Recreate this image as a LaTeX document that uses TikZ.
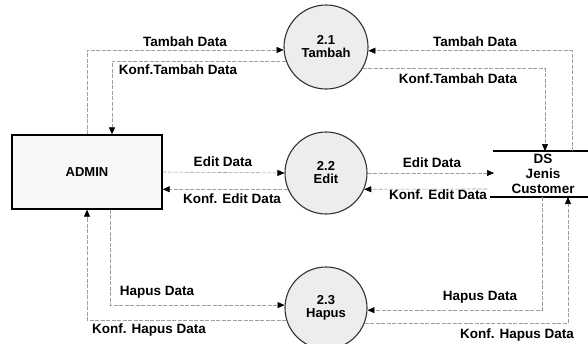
\documentclass[tikz,border=0pt]{standalone}
\usepackage{fontspec}
\setmainfont{Liberation Sans}
\usetikzlibrary{arrows.meta,calc}
\begin{document}
\begin{tikzpicture}[x=1pt,y=-1pt,
  lbl/.style={font=\fontsize{13.5}{15}\bfseries\selectfont, inner sep=0pt},
  proc/.style={circle, draw=black!80, line width=1.1pt, fill=gray!14, minimum size=82pt, inner sep=0pt, align=center, font=\fontsize{13}{15}\bfseries\selectfont},
  entity/.style={rectangle, draw=black, line width=1.4pt, fill=gray!6, minimum width=150pt, minimum height=74pt, font=\fontsize{13}{15}\bfseries\selectfont},
  flow/.style={draw=gray!75, line width=0.6pt, dash pattern=on 4pt off 1.5pt, -{Triangle[length=7pt,width=6pt,fill=black,color=black]}},
  storeline/.style={draw=black, line width=1.4pt}]
\useasboundingbox (0,0) rectangle (588,343);
\fill[white] (0,0) rectangle (588,343);

% entities and processes
\node[entity] (admin) at (87,172) {ADMIN};
\node[proc, minimum size=84pt] (c1) at (326,47) {2.1\\[-2pt]Tambah};
\node[proc] (c2) at (326,173) {2.2\\[-2pt]Edit};
\node[proc] (c3) at (326,308) {2.3\\[-2pt]Hapus};

% data store
\node[lbl, align=center] (ds) at (543,174) {DS\\[0pt]Jenis\\[0pt]Customer};
\coordinate (dsTl) at (493,151);
\coordinate (dsTr) at (588,151);
\coordinate (dsBl) at (490,197);
\coordinate (dsBr) at (588,197);
\draw[storeline] (dsTl) -- (dsTr);
\draw[storeline] (dsBl) -- (dsBr);

% store connection points
\coordinate (dsTa) at (572,151);
\coordinate (dsTb) at (545,151);
\coordinate (dsL) at (494,173);
\coordinate (dsL2) at (487,189);
\coordinate (dsBa) at (542,197);
\coordinate (dsBb) at (568,197);

% Tambah
\draw[flow] (admin.north) |- (c1.184);
\draw[flow] (c1.199) -| ([xshift=25pt]admin.north);
\draw[flow] (dsTa) |- (c1.-5);
\draw[flow] (c1.-30) -| (dsTb);

% Edit
\draw[flow] (admin.east) -- (c2.west);
\draw[flow] (c2.203) -- (c2.203 -| admin.east);
\draw[flow] (c2.east) -- (dsL);
\draw[flow] (dsL2) -- (c2.-23);

% Hapus
\draw[flow] ([xshift=23pt]admin.south) |- (c3.176);
\draw[flow] (c3.197) -| (admin.south);
\draw[flow] (dsBa) |- (c3.357);
\draw[flow] (c3.-21) -| (dsBb);

% labels
\node[lbl] (l1) at (185,42) {Tambah Data};
\node[lbl] (l2) at (178,70) {Konf.Tambah Data};
\node[lbl] (l3) at (475,42) {Tambah Data};
\node[lbl] (l4) at (458,79) {Konf.Tambah Data};
\node[lbl] (l5) at (223,162) {Edit Data};
\node[lbl] (l6) at (232,199) {Konf. Edit Data};
\node[lbl] (l7) at (432,163) {Edit Data};
\node[lbl] (l8) at (438,195) {Konf. Edit Data};
\node[lbl] (l9) at (157,292) {Hapus Data};
\node[lbl] (l10) at (149,330) {Konf. Hapus Data};
\node[lbl] (l11) at (480,297) {Hapus Data};
\node[lbl] (l12) at (517,335) {Konf. Hapus Data};
\end{tikzpicture}
\end{document}
